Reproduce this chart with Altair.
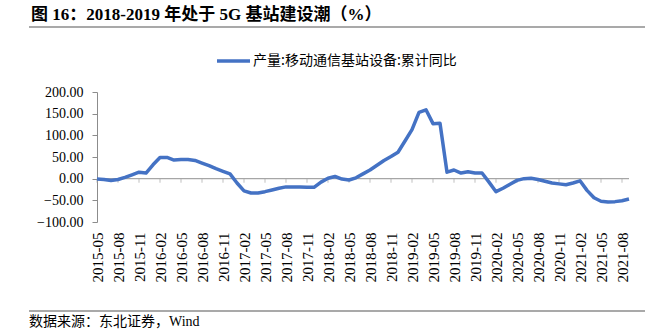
import altair as alt
import pandas as pd

# Monthly categories 2015-05 .. 2021-09
months = [str(p) for p in pd.period_range("2015-05", "2021-09", freq="M")]
tick_labels = [m for i, m in enumerate(months) if i % 3 == 0]

# 产量:移动通信基站设备:累计同比 (%)
values = [-1, -2, -4, -2, 3, 9, 15, 13, 32, 49,
          49, 43, 44, 44, 42, 36, 30, 23, 17, 11,
          -10, -28, -33, -33, -30, -26, -22, -19, -19, -19,
          -20, -20, -8, 1, 5, -1, -3, 2, 11, 20,
          31, 42, 51, 61, 87, 113, 153, 159, 127, 128,
          15, 20, 13, 16, 13, 13, -8, -30, -22, -13,
          -4, 0, 1, -2, -6, -10, -12, -14, -10, -5,
          -27, -44, -52, -54, -53, -51, -47]

y_ticks = [-100, -50, 0, 50, 100, 150, 200]
series_name = "产量:移动通信基站设备:累计同比"
title_text = "图 16：2018-2019 年处于 5G 基站建设潮（%）"
source_text = "数据来源：东北证券，Wind"

W, H = 532, 130
SERIF = "Liberation Serif"
MIXED = "Liberation Serif, Noto Sans CJK SC"
CJK = "Noto Sans CJK SC"
BLUE = "#4472C4"
GREY = "#8C8C8C"

df = pd.DataFrame({"month": months, "value": values})
df_ticks = pd.DataFrame({"month": tick_labels})
one = pd.DataFrame({"k": [0]})

xscale = alt.Scale(type="point", domain=months, padding=0)
yscale = alt.Scale(domain=[-100, 200], nice=False, zero=False)

xaxis = alt.Axis(values=tick_labels, labelAngle=-90, ticks=False, domain=False,
                 labelPadding=10, labelFont=SERIF, labelFontSize=15,
                 labelColor="#000000", labelOverlap=False, title=None)
yaxis = alt.Axis(values=y_ticks, format=".2f", grid=False, tickSize=5,
                 labelPadding=9, labelFont=SERIF, labelFontSize=14,
                 labelColor="#000000", domainColor=GREY, tickColor=GREY,
                 labelOverlap=False, labelBound=False, title=None)

zero_rule = alt.Chart(one).mark_rule(color="#A6A6A6", strokeWidth=1.2).encode(
    y=alt.YDatum(0, axis=yaxis, scale=yscale), x=alt.value(0), x2=alt.value(W)
)

xticks = alt.Chart(df_ticks).mark_tick(orient="vertical", size=4, thickness=1, yOffset=2,
                                        color="#A6A6A6").encode(
    x=alt.X("month:O", scale=xscale, axis=xaxis),
    y=alt.YDatum(0, axis=yaxis, scale=yscale),
)

line = alt.Chart(df).mark_line(color=BLUE, strokeWidth=3.5, strokeJoin="round").encode(
    x=alt.X("month:O", scale=xscale, axis=xaxis),
    y=alt.Y("value:Q", scale=yscale, axis=yaxis),
)

title = alt.Chart(one).mark_text(align="left", baseline="alphabetic", font=MIXED,
                                 fontSize=17, fontWeight="bold", color="#000000").encode(
    x=alt.value(-66), y=alt.value(-72), text=alt.value(title_text)
)
title_rule = alt.Chart(one).mark_rule(color="#555555", strokeWidth=1.2).encode(
    x=alt.value(-68), x2=alt.value(548), y=alt.value(-65)
)

legend_line = alt.Chart(one).mark_rule(color=BLUE, strokeWidth=3.5).encode(
    x=alt.value(120), x2=alt.value(153), y=alt.value(-31)
)
legend_text = alt.Chart(one).mark_text(align="left", baseline="middle", font=CJK,
                                       fontSize=14, color="#000000").encode(
    x=alt.value(156), y=alt.value(-31), text=alt.value(series_name)
)

bottom_rule = alt.Chart(one).mark_rule(color="#555555", strokeWidth=1.2).encode(
    x=alt.value(-68), x2=alt.value(548), y=alt.value(219)
)
source = alt.Chart(one).mark_text(align="left", baseline="alphabetic", font=MIXED,
                                  fontSize=14, color="#000000").encode(
    x=alt.value(-68), y=alt.value(234), text=alt.value(source_text)
)

chart = alt.layer(
    zero_rule, xticks, line, title, title_rule, legend_line, legend_text, bottom_rule, source
).properties(
    width=W, height=H,
    autosize=alt.AutoSizeParams(type="none"),
    padding={"left": 97, "top": 92, "right": 32, "bottom": 114},
    background="white",
).configure_view(stroke=None)

chart.save("out.html", embed_options={"renderer": "svg", "actions": False})
